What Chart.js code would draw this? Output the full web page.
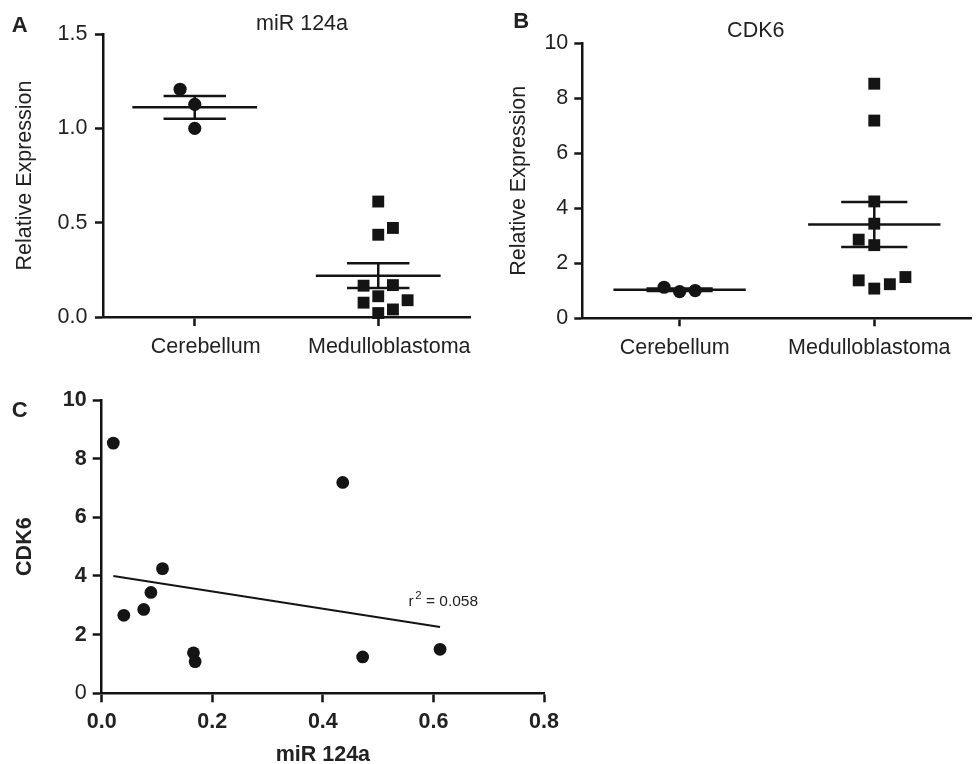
<!DOCTYPE html>
<html><head><meta charset="utf-8">
<script src="https://cdn.jsdelivr.net/npm/chart.js@4.4.0/dist/chart.umd.min.js"></script>
<style>
html,body{margin:0;padding:0;background:#fff;overflow:hidden;width:980px;height:764px;}
.panel{position:absolute;}
canvas{display:block;}
</style></head><body>
<div class="panel" style="left:0;top:0;width:490px;height:380px"><canvas id="ca" width="490" height="380" style="width:490px;height:380px"></canvas></div>
<div class="panel" style="left:490px;top:0;width:490px;height:380px"><canvas id="cb" width="490" height="380" style="width:490px;height:380px"></canvas></div>
<div class="panel" style="left:0;top:380px;width:600px;height:400px"><canvas id="cc" width="600" height="400" style="width:600px;height:400px"></canvas></div>
<script>
// ---------------- data ----------------
const groups = ['Cerebellum', 'Medulloblastoma'];
const cerebellumMiR  = [1.207, 1.127, 1.000];
const cerebellumCDK6 = [1.13, 0.97, 1.01];
// medulloblastoma samples (same samples in panels A, B and C)
const medulloMiR  = [0.021, 0.040, 0.076, 0.089, 0.110, 0.166, 0.169, 0.436, 0.472, 0.612];
const medulloCDK6 = [8.53, 2.66, 2.86, 3.44, 4.25, 1.38, 1.08, 7.19, 1.24, 1.50];
// column slot of each point inside its scatter column, as laid out in the figure
const cerebellumMiRCol  = [-1, 0, 0];
const medulloMiRCol     = [0, 1, -1, 2, 0, -1, 1, 0, 1, 0];
const cerebellumCDK6Col = [-1, 0, 1];
const medulloCDK6Col    = [0, 0, -1, 0, 0, -1, 0, 0, 1, 2];
const miRTicks  = [0, 0.5, 1.0, 1.5];
const cdk6Ticks = [0, 2, 4, 6, 8, 10];
const corrXTicks = [0, 0.2, 0.4, 0.6, 0.8];
const r2Text = '0.058';

// ---------------- helpers ----------------
const INK = '#141414';
const TEXT = '#222';
const FAMILY = "'Liberation Sans', Arial, Helvetica, sans-serif";
Chart.defaults.font.family = FAMILY;
Chart.defaults.color = TEXT;
const COL = 0.08, MEAN_HALF = 0.34, CAP_HALF = 0.17;
const FS = 21.5;

function stats(a) {
  const n = a.length, m = a.reduce((s, v) => s + v, 0) / n;
  const sd = Math.sqrt(a.reduce((s, v) => s + (v - m) ** 2, 0) / (n - 1));
  return { m, sem: sd / Math.sqrt(n) };
}
function pts(vals, cols, g) { return vals.map((v, i) => ({ x: g + cols[i] * COL, y: v })); }
function errSegs(vals, g) {
  const { m, sem } = stats(vals);
  return [
    { x: g - MEAN_HALF, y: m }, { x: g + MEAN_HALF, y: m }, { x: g, y: null },
    { x: g - CAP_HALF, y: m + sem }, { x: g + CAP_HALF, y: m + sem }, { x: g, y: null },
    { x: g - CAP_HALF, y: m - sem }, { x: g + CAP_HALF, y: m - sem }, { x: g, y: null },
    { x: g, y: m - sem }, { x: g, y: m + sem }
  ];
}
function axisLook(tl) {
  return {
    grid: { display: true, drawOnChartArea: false, drawTicks: true, tickLength: tl, tickWidth: 2.5, tickColor: INK },
    border: { display: true, color: INK, width: 2.5 }
  };
}
const overlayText = {
  id: 'overlayText',
  afterDraw(chart, args, opts) {
    const ctx = chart.ctx;
    (opts.items || []).forEach(it => {
      ctx.save();
      ctx.font = it.font; ctx.fillStyle = TEXT;
      ctx.textAlign = it.align || 'left'; ctx.textBaseline = 'alphabetic';
      ctx.fillText(it.text, it.x, it.y);
      ctx.restore();
    });
  }
};

function groupChart(id, cfg) {
  const lineDs = d => ({ data: d, showLine: true, pointRadius: 0, borderColor: INK, borderWidth: 2.5, spanGaps: false, clip: false, borderCapStyle: 'butt' });
  return new Chart(document.getElementById(id), {
    type: 'scatter',
    data: { datasets: [
      lineDs(errSegs(cfg.c, 0)),
      lineDs(errSegs(cfg.m, 1)),
      { data: pts(cfg.c, cfg.cCol, 0), pointStyle: 'circle', pointRadius: 6.6, backgroundColor: INK, borderWidth: 0, clip: false },
      { data: pts(cfg.m, cfg.mCol, 1), pointStyle: 'rect', pointRadius: 8.4, backgroundColor: INK, borderWidth: 0, clip: false }
    ]},
    options: {
      responsive: false, animation: false, events: [],
      layout: { padding: cfg.padding },
      plugins: { legend: { display: false }, tooltip: { enabled: false }, overlayText: { items: cfg.text } },
      scales: {
        x: Object.assign(axisLook(cfg.xTl), {
          type: 'linear', min: -0.5, max: 1.5,
          afterBuildTicks: s => { s.ticks = [{ value: 0 }, { value: 1 }]; },
          afterFit: s => { s.height = cfg.xHeight; },
          ticks: { callback: v => groups[v] || '', font: { size: FS }, padding: cfg.xPad, labelOffset: cfg.labelOffset,
                   maxRotation: 0, autoSkip: false, color: TEXT }
        }),
        y: Object.assign(axisLook(cfg.yTl), {
          type: 'linear', min: cfg.yTicks[0], max: cfg.yTicks[cfg.yTicks.length - 1],
          afterBuildTicks: s => { s.ticks = cfg.yTicks.map(v => ({ value: v })); },
          afterFit: s => { s.width = cfg.yWidth; },
          ticks: { callback: cfg.yFmt, font: { size: FS }, padding: cfg.yPad, color: TEXT },
          title: { display: true, text: 'Relative Expression', font: { size: FS }, padding: { top: cfg.yTitlePad, bottom: 0 }, color: TEXT }
        })
      }
    },
    plugins: [overlayText]
  });
}

// Panel A
groupChart('ca', {
  c: cerebellumMiR, cCol: cerebellumMiRCol, m: medulloMiR, mCol: medulloMiRCol,
  yTicks: miRTicks, yFmt: v => v.toFixed(1),
  padding: { top: 34, right: 20, bottom: 0, left: 0 },
  xHeight: 63, yWidth: 103, xTl: 9, xPad: 8.5, yTl: 8, yPad: 7.5, yTitlePad: 12, labelOffset: 11,
  text: [
    { text: 'A', x: 11.7, y: 31.7, font: "bold 22px " + FAMILY },
    { text: 'miR 124a', x: 302, y: 30, font: FS + "px " + FAMILY, align: 'center' }
  ]
});
// Panel B
groupChart('cb', {
  c: cerebellumCDK6, cCol: cerebellumCDK6Col, m: medulloCDK6, mCol: medulloCDK6Col,
  yTicks: cdk6Ticks, yFmt: v => String(v),
  padding: { top: 43.3, right: 0, bottom: 0, left: 0 },
  xHeight: 61.7, yWidth: 92.3, xTl: 8, xPad: 8.6, yTl: 8, yPad: 6, yTitlePad: 16.4, labelOffset: -5,
  text: [
    { text: 'B', x: 23.3, y: 28.3, font: "bold 22px " + FAMILY },
    { text: 'CDK6', x: 265.8, y: 36.7, font: FS + "px " + FAMILY, align: 'center' }
  ]
});

// Panel C: correlation
function linReg(xs, ys) {
  const n = xs.length, mx = xs.reduce((s, v) => s + v, 0) / n, my = ys.reduce((s, v) => s + v, 0) / n;
  let sxy = 0, sxx = 0;
  xs.forEach((x, i) => { sxy += (x - mx) * (ys[i] - my); sxx += (x - mx) ** 2; });
  const a = sxy / sxx; return { a, b: my - a * mx };
}
const fit = linReg(medulloMiR, medulloCDK6);
const xMin = Math.min(...medulloMiR), xMax = Math.max(...medulloMiR);
const r2Label = {
  id: 'r2Label',
  afterDraw(chart) {
    const ctx = chart.ctx;
    const x = chart.scales.x.getPixelForValue(0.555), y = chart.scales.y.getPixelForValue(2.98);
    ctx.save(); ctx.fillStyle = TEXT; ctx.textBaseline = 'alphabetic'; ctx.textAlign = 'left';
    ctx.font = "15.5px " + FAMILY; ctx.fillText('r', x, y);
    let cx = x + ctx.measureText('r').width + 1.5;
    ctx.font = "11.5px " + FAMILY; ctx.fillText('2', cx, y - 6.7);
    cx += ctx.measureText('2').width;
    ctx.font = "15.5px " + FAMILY; ctx.fillText(' = ' + r2Text, cx, y);
    ctx.restore();
  }
};
new Chart(document.getElementById('cc'), {
  type: 'scatter',
  data: { datasets: [
    { data: [{ x: xMin, y: fit.b + fit.a * xMin }, { x: xMax, y: fit.b + fit.a * xMax }], showLine: true, pointRadius: 0, borderColor: INK, borderWidth: 2, clip: false },
    { data: medulloMiR.map((x, i) => ({ x, y: medulloCDK6[i] })), pointStyle: 'circle', pointRadius: 6.4, backgroundColor: INK, borderWidth: 0, clip: false }
  ]},
  options: {
    responsive: false, animation: false, events: [],
    layout: { padding: { top: 20, right: 56, bottom: 0, left: 0 } },
    plugins: { legend: { display: false }, tooltip: { enabled: false },
      overlayText: { items: [{ text: 'C', x: 11.7, y: 36.7, font: "bold 22px " + FAMILY }] } },
    scales: {
      x: Object.assign(axisLook(9), {
        type: 'linear', min: corrXTicks[0], max: corrXTicks[corrXTicks.length - 1],
        afterBuildTicks: s => { s.ticks = corrXTicks.map(v => ({ value: v })); },
        afterFit: s => { s.height = 86.7; },
        ticks: { callback: v => v.toFixed(1), font: { size: FS, weight: 'bold' }, padding: 7, maxRotation: 0, autoSkip: false, color: TEXT },
        title: { display: true, text: 'miR 124a', font: { size: FS, weight: 'bold' }, padding: { top: 0, bottom: 11.6 }, color: TEXT }
      }),
      y: Object.assign(axisLook(9), {
        type: 'linear', min: cdk6Ticks[0], max: cdk6Ticks[cdk6Ticks.length - 1],
        afterBuildTicks: s => { s.ticks = cdk6Ticks.map(v => ({ value: v })); },
        afterFit: s => { s.width = 101.7; },
        ticks: { callback: v => String(v), padding: 6, color: TEXT,
          font: ctx => ({ size: FS, family: FAMILY, weight: (ctx.tick && ctx.tick.value === 0) ? 'normal' : 'bold' }) },
        title: { display: true, text: 'CDK6', font: { size: FS, weight: 'bold' }, padding: { top: 12, bottom: 0 }, color: TEXT }
      })
    }
  },
  plugins: [overlayText, r2Label]
});
</script>
</body></html>
